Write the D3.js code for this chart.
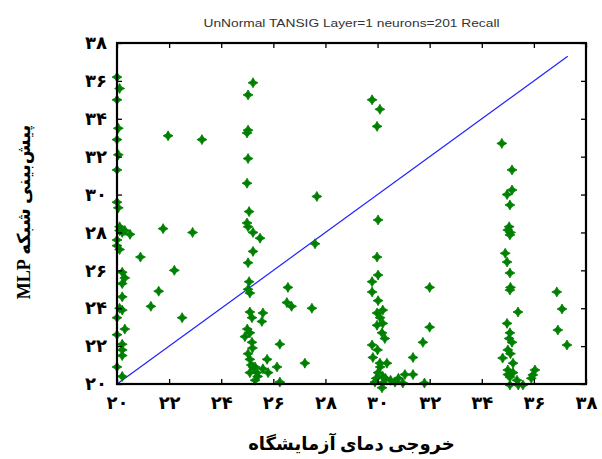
<!DOCTYPE html>
<html>
<head>
<meta charset="utf-8">
<script src="https://cdn.jsdelivr.net/npm/d3@7"></script>
<style>
  body { margin: 0; background: #fff; }
  svg { display: block; }
</style>
</head>
<body>
<svg id="vis"></svg>
<script>
// chart texts
const TITLE = "UnNormal TANSIG Layer=1 neurons=201 Recall";
const X_LABEL = "خروجی دمای آزمایشگاه";
const Y_LABEL = "پیش‌بینی شبکه MLP";

// ticks (persian digits)
const TICK_VALUES = [20, 22, 24, 26, 28, 30, 32, 34, 36, 38];
const TICK_LABELS = ["۲۰", "۲۲", "۲۴", "۲۶", "۲۸", "۳۰", "۳۲", "۳۴", "۳۶", "۳۸"];

// ideal line y = x
const LINE_X = [20, 37.3];

const actual = [
    20.0, 20.1, 20.0, 20.05, 20.0, 20.05, 20.0, 20.0, 20.05, 20.1, 20.2, 20.5, 20.0, 20.1, 20.9,
    20.2, 20.2, 20.2, 20.2, 20.0, 20.3, 20.2, 20.2, 20.0, 20.2,
    20.1, 20.3, 20.0, 20.3, 20.1, 20.0, 20.2,
    21.96, 23.26, 21.77, 22.9, 22.2, 21.6, 21.3, 22.5,
    25.22, 25.03, 25.03, 24.99, 25.03, 24.99, 25.07, 24.99, 25.03, 25.22, 25.49, 25.22, 25.03,
    25.07, 25.03, 25.1, 25.1, 25.18, 25.6, 25.56, 25.1, 24.91, 25.18, 25.03, 25.1, 25.22, 25.1,
    25.37, 25.6, 25.76, 25.8, 26.14, 26.25, 25.3,
    25.15, 25.3, 25.0, 25.2, 25.4,
    27.67, 27.6, 26.56, 26.52, 26.7, 27.48, 26.25, 27.21,
    29.79, 30.09, 29.98, 30.02, 29.98, 30.02, 29.79, 29.79, 30.02, 30.2, 29.98, 29.98, 30.17,
    30.28, 29.79, 29.82, 30.09, 30.36, 30.02, 29.9, 30.2, 30.67, 31.05, 31.36, 31.36, 31.74,
    32.0, 32.0, 31.8, 30.97, 30.17,
    30.1, 30.2, 30.0, 30.1, 30.3, 30.5, 30.2, 29.95, 30.8,
    34.77, 35.16, 35.16, 34.97, 35.08, 35.0, 35.08, 34.9, 34.97, 35.08, 35.08, 35.39, 34.97,
    35.08, 35.16, 35.0, 34.8, 35.0, 35.08, 35.35, 35.96, 36.04, 35.08, 35.58,
    35.05, 35.1, 35.1, 35.05, 35.1, 35.2, 35.0, 35.2, 35.9, 35.4,
    36.88, 37.08, 36.92, 37.27
];
const predicted = [
    36.2, 35.6, 35.0, 33.5, 32.9, 32.1, 31.3, 29.6, 29.3, 28.1, 28.0, 27.9, 27.6, 27.1, 26.7,
    25.9, 25.3, 24.6, 23.9, 23.5, 22.9, 22.1, 21.5, 20.9, 20.4,
    28.3, 28.1, 27.3, 25.6, 24.0, 22.6, 21.8,
    33.1, 32.9, 28.2, 28.0, 26.0, 24.9, 24.1, 23.5,
    35.9, 35.26, 33.4, 33.25, 31.9, 30.6, 29.1, 28.5, 28.3, 28.0, 27.7, 27.0, 26.4,
    25.4, 25.0, 24.8, 23.8, 23.5, 23.75, 23.3, 22.7, 22.5, 22.2, 21.6, 21.3, 20.9, 20.6,
    20.6, 20.8, 21.3, 20.6, 20.9, 20.1, 20.2,
    21.0, 20.9, 22.9, 21.9, 20.4,
    29.9, 27.4, 25.1, 24.3, 24.1, 24.0, 22.1, 21.1,
    35.0, 34.5, 33.6, 28.66, 26.7, 25.75, 25.4, 24.86, 24.4, 23.9, 23.75, 23.1, 22.7,
    22.4, 22.06, 21.4, 21.1, 21.1, 20.6, 20.1, 20.05, 20.1, 20.5, 20.5, 21.4, 22.2,
    23.0, 25.1, 20.05, 20.05, 19.8,
    23.5, 23.2, 21.8, 20.9, 20.3, 20.2, 20.4, 20.3, 20.3,
    32.7, 31.3, 30.24, 30.0, 29.45, 28.13, 27.87, 26.9, 26.44, 25.86, 24.96, 23.8, 23.2,
    22.7, 22.2, 21.8, 21.37, 20.74, 20.37, 20.2, 20.48, 20.74, 19.95, 19.95,
    28.3, 28.0, 25.1, 22.4, 21.6, 21.1, 20.5, 20.6, 20.3, 19.95,
    24.86, 23.96, 22.85, 22.06
];

const WIDTH = 602;
const HEIGHT = 459;
const LEFT = 117, RIGHT = 586, TOP = 43, BOTTOM = 384;
const TICK = 5;
const LABEL_FONT = "'Liberation Serif', 'DejaVu Sans', serif";

window.onload = function(){
    draw();
};

function draw(){

    let xScale = d3.scaleLinear()
        .domain([20, 38])
        .range([LEFT, RIGHT]);

    let yScale = d3.scaleLinear()
        .domain([20, 38])
        .range([BOTTOM, TOP]);

    let svg = d3.select("#vis")
        .attr("width", WIDTH)
        .attr("height", HEIGHT);

    let fmt = function(d){ return TICK_LABELS[TICK_VALUES.indexOf(d)]; };

    // title
    svg.append("text")
        .text(TITLE)
        .attr("x", (LEFT + RIGHT) / 2)
        .attr("y", 27)
        .attr("font-family", "'Liberation Sans', Arial, sans-serif")
        .attr("font-size", "11px")
        .attr("textLength", 296)
        .attr("lengthAdjust", "spacingAndGlyphs")
        .attr("fill", "#333")
        .style("text-anchor", "middle");

    // ideal line
    svg.append("line")
        .attr("x1", xScale(LINE_X[0]))
        .attr("y1", yScale(LINE_X[0]))
        .attr("x2", xScale(LINE_X[1]))
        .attr("y2", yScale(LINE_X[1]))
        .attr("stroke", "#2020ff")
        .attr("stroke-width", 1.2);

    // markers: a four point star
    let star = "M0,-5L1.8,-1.8L5,0L1.8,1.8L0,5L-1.8,1.8L-5,0L-1.8,-1.8Z";
    let pts = actual.map(function(d, i){ return {x: d, y: predicted[i]}; });

    svg.selectAll("path.pt")
        .data(pts)
        .enter()
        .append("path")
        .attr("class", "pt")
        .attr("d", star)
        .attr("transform", function(d){
            return "translate(" + xScale(d.x) + "," + yScale(d.y) + ")";
        })
        .style("fill", "#008000")
        .style("stroke", "#008000")
        .style("stroke-width", 0.8);

    // axes with inward ticks on all four sides
    let axB = d3.axisBottom(xScale).tickValues(TICK_VALUES).tickFormat(fmt).tickSizeInner(-TICK).tickSizeOuter(0).tickPadding(12);
    let axT = d3.axisTop(xScale).tickValues(TICK_VALUES).tickFormat("").tickSizeInner(-TICK).tickSizeOuter(0);
    let axL = d3.axisLeft(yScale).tickValues(TICK_VALUES).tickFormat(fmt).tickSizeInner(-TICK).tickSizeOuter(0).tickPadding(10);
    let axR = d3.axisRight(yScale).tickValues(TICK_VALUES).tickFormat("").tickSizeInner(-TICK).tickSizeOuter(0);

    let gB = svg.append("g").attr("transform", "translate(0," + BOTTOM + ")").call(axB);
    let gT = svg.append("g").attr("transform", "translate(0," + TOP + ")").call(axT);
    let gL = svg.append("g").attr("transform", "translate(" + LEFT + ",0)").call(axL);
    let gR = svg.append("g").attr("transform", "translate(" + RIGHT + ",0)").call(axR);

    [gB, gT, gL, gR].forEach(function(g){
        g.select(".domain").remove();
        g.selectAll(".tick line").attr("stroke", "#000").attr("stroke-width", 1.3);
        g.selectAll(".tick text")
            .attr("font-family", LABEL_FONT)
            .attr("font-weight", "bold")
            .attr("font-size", "18px")
            .attr("fill", "#000");
    });

    // box
    svg.append("rect")
        .attr("x", LEFT)
        .attr("y", TOP)
        .attr("width", RIGHT - LEFT)
        .attr("height", BOTTOM - TOP)
        .attr("fill", "none")
        .attr("stroke", "#000")
        .attr("stroke-width", 2.2);

    // axis labels
    svg.append("text")
        .text(X_LABEL)
        .attr("x", (LEFT + RIGHT) / 2)
        .attr("y", 450)
        .attr("font-family", LABEL_FONT)
        .attr("font-weight", "bold")
        .attr("font-size", "18px")
        .attr("fill", "#000")
        .style("direction", "rtl")
        .style("text-anchor", "middle");

    svg.append("text")
        .text(Y_LABEL)
        .attr("transform", "translate(30," + 212 + ") rotate(-90)")
        .attr("font-family", LABEL_FONT)
        .attr("font-weight", "bold")
        .attr("font-size", "18px")
        .attr("fill", "#000")
        .style("direction", "rtl")
        .style("unicode-bidi", "embed")
        .style("text-anchor", "middle");
}
</script>
</body>
</html>
